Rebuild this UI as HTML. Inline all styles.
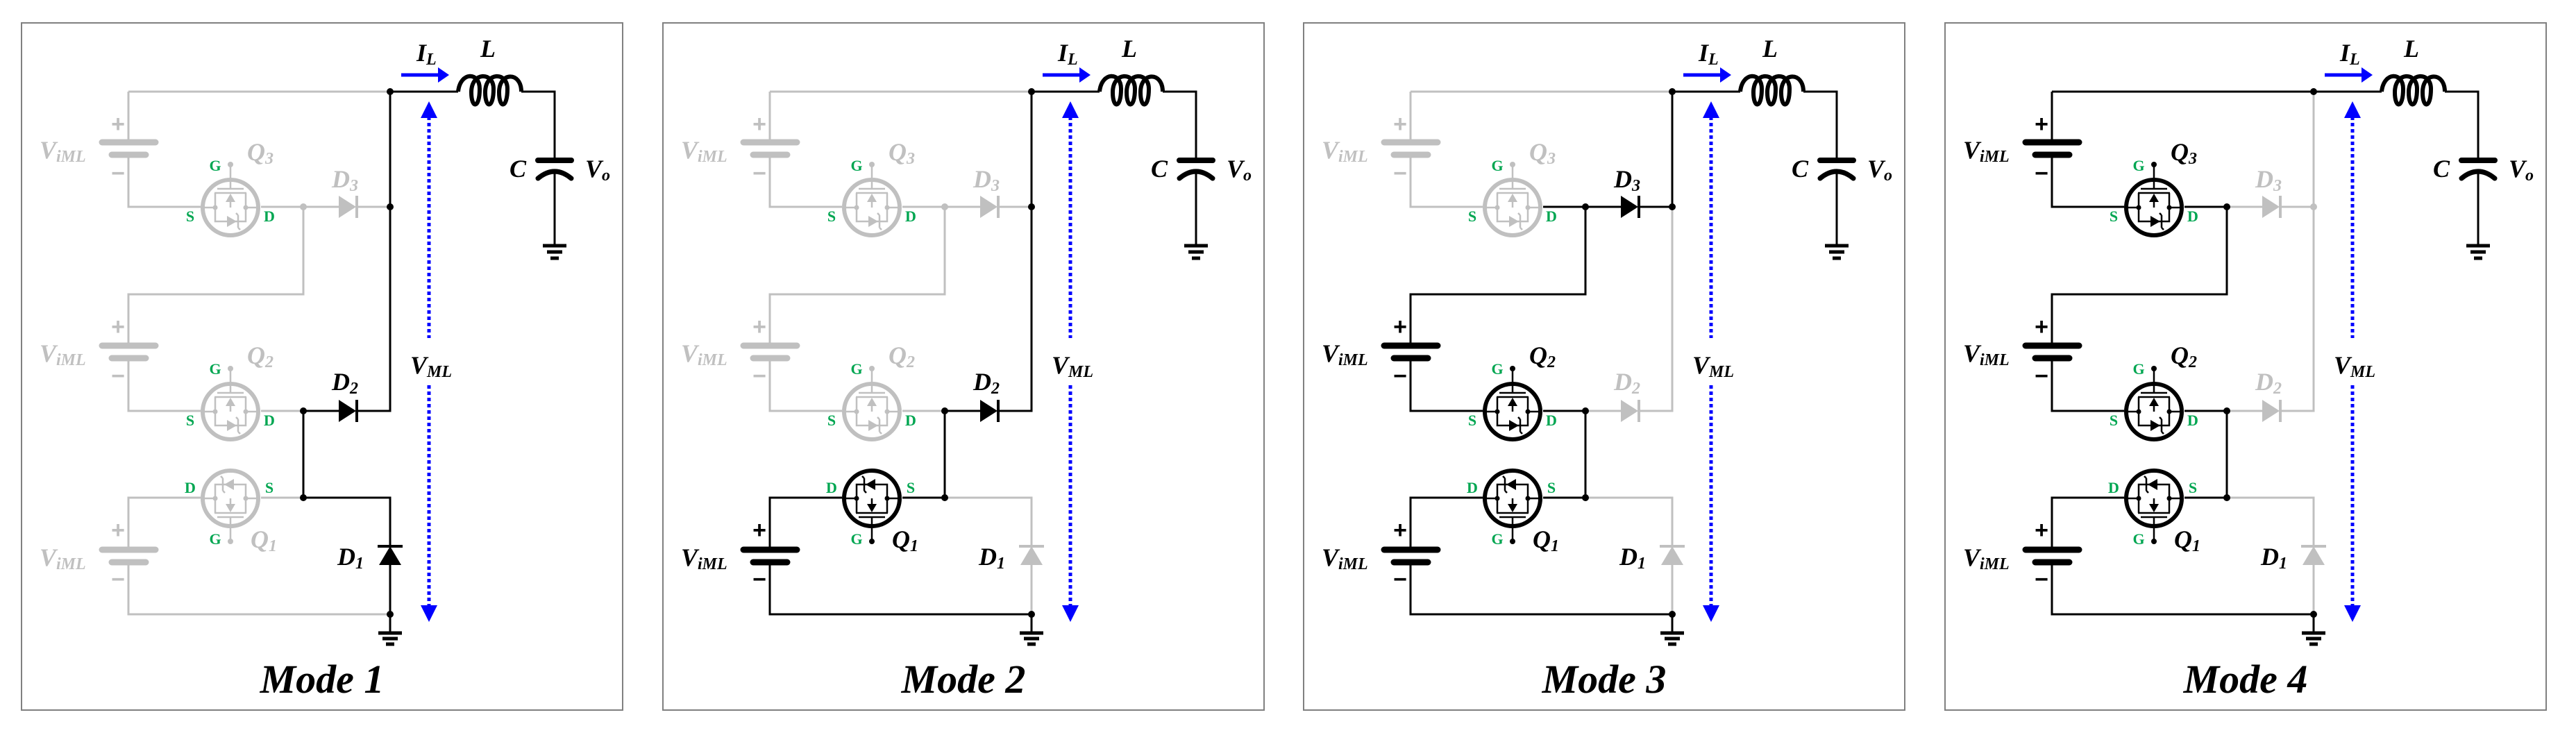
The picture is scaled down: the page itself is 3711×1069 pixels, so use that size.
<!DOCTYPE html>
<html><head><meta charset="utf-8"><style>
html,body{margin:0;padding:0;background:#fff}
svg{display:block}
.A,.B,.C,.E,.F,.G,.H{color:#c0c0c0}
.m4 .A,.m3 .B,.m4 .B,.m3 .C,.m1 .E,.m2 .E,.m3 .E,.m1 .F,.m2 .F,.m2 .G,.m3 .G,.m4 .G,.m1 .H{color:#000}
.K{color:#000}
.t{font-family:"Liberation Serif",serif;font-weight:bold;font-style:italic;fill:currentColor;stroke:none}
.gr{font-family:"Liberation Serif",serif;font-weight:bold;fill:#00a651;stroke:none;font-size:22px;text-anchor:middle}
.pm{font-family:"Liberation Sans",sans-serif;font-weight:bold;fill:currentColor;stroke:none;font-size:34px;text-anchor:middle}
.f{fill:currentColor;stroke:none}
</style></head><body>
<svg width="3711" height="1069" viewBox="0 0 3711 1069" xmlns="http://www.w3.org/2000/svg">
<defs></defs>

<!-- PANEL 1 -->
<g class="m1" transform="translate(31,33)" stroke="currentColor" fill="none" stroke-width="3">
<rect x="0" y="0" width="866" height="990" stroke="#808080" stroke-width="2" fill="#fff"/>
<g class="A">
<path d="M154,99 H531 M154,99 V172 M154,190 V265 H258"/>
<path d="M116,172 H193 M130,190 H179" stroke-width="9" stroke-linecap="round"/>
<text class="pm" x="139" y="157">+</text><text class="pm" x="139" y="228">−</text>
<text class="t" x="26" y="195" font-size="36">V<tspan font-size="24" dy="5">iML</tspan></text>
<g transform="translate(301,266)"><circle r="40" stroke-width="6"/><path d="M0,-62 V-27 M-19,-27 H19 M-23,-21 H23 M-22,-21 V20 H22 V-21 M-40,0 H-22 M40,0 H22 M0,-9 V0" stroke-width="2.5"/><circle class="f" cx="-22" r="3.5"/><circle class="f" cx="22" r="3.5"/><circle class="f" cy="-62" r="4"/><path class="f" d="M0,-20 L-7,-8 H7 Z"/><path class="f" d="M-5,12 L9,20 L-5,28 Z"/><path d="M11,11 V29 M11,11 l-3,-3 M11,29 l3,3" stroke-width="2.5"/></g>
<text class="t" x="325" y="198" font-size="36">Q<tspan font-size="24" dy="5">3</tspan></text>
</g>
<text class="gr" x="279" y="213">G</text><text class="gr" x="243" y="286">S</text><text class="gr" x="357" y="286">D</text>
<g class="B">
<path d="M345,265 H406 V391 H154 V465 M154,483 V559 H258 M345,559 H406"/>
<circle class="f" cx="406" cy="265" r="5"/>
<path d="M116,465 H193 M130,483 H179" stroke-width="9" stroke-linecap="round"/>
<text class="pm" x="139" y="449">+</text><text class="pm" x="139" y="520">−</text>
<text class="t" x="26" y="488" font-size="36">V<tspan font-size="24" dy="5">iML</tspan></text>
<g transform="translate(301,560)"><circle r="40" stroke-width="6"/><path d="M0,-62 V-27 M-19,-27 H19 M-23,-21 H23 M-22,-21 V20 H22 V-21 M-40,0 H-22 M40,0 H22 M0,-9 V0" stroke-width="2.5"/><circle class="f" cx="-22" r="3.5"/><circle class="f" cx="22" r="3.5"/><circle class="f" cy="-62" r="4"/><path class="f" d="M0,-20 L-7,-8 H7 Z"/><path class="f" d="M-5,12 L9,20 L-5,28 Z"/><path d="M11,11 V29 M11,11 l-3,-3 M11,29 l3,3" stroke-width="2.5"/></g>
<text class="t" x="325" y="491" font-size="36">Q<tspan font-size="24" dy="5">2</tspan></text>
</g>
<text class="gr" x="279" y="506">G</text><text class="gr" x="243" y="580">S</text><text class="gr" x="357" y="580">D</text>
<g class="C">
<path d="M406,265 H457 M483,265 H531"/>
<path class="f" d="M457,249 L482,265 L457,281 Z"/><path d="M483,249 V281" stroke-width="4"/>
<text class="t" x="447" y="237" font-size="36">D<tspan font-size="24" dy="5">3</tspan></text>
</g>
<g class="E"><path d="M531,99 V265"/><circle class="f" cx="531" cy="265" r="5"/></g>
<g class="F">
<path d="M531,265 V559 H483 M457,559 H406"/>
<path class="f" d="M457,543 L482,559 L457,575 Z"/><path d="M483,543 V575" stroke-width="4"/>
<text class="t" x="447" y="529" font-size="36">D<tspan font-size="24" dy="5">2</tspan></text>
</g>
<g class="G">
<path d="M345,684 H406 M258,684 H154 V759 M154,777 V852 H531"/>
<path d="M116,759 H193 M130,777 H179" stroke-width="9" stroke-linecap="round"/>
<text class="pm" x="139" y="742">+</text><text class="pm" x="139" y="813">−</text>
<text class="t" x="26" y="782" font-size="36">V<tspan font-size="24" dy="5">iML</tspan></text>
<g transform="translate(301,685) rotate(180)"><circle r="40" stroke-width="6"/><path d="M0,-62 V-27 M-19,-27 H19 M-23,-21 H23 M-22,-21 V20 H22 V-21 M-40,0 H-22 M40,0 H22 M0,-9 V0" stroke-width="2.5"/><circle class="f" cx="-22" r="3.5"/><circle class="f" cx="22" r="3.5"/><circle class="f" cy="-62" r="4"/><path class="f" d="M0,-20 L-7,-8 H7 Z"/><path class="f" d="M-5,12 L9,20 L-5,28 Z"/><path d="M11,11 V29 M11,11 l-3,-3 M11,29 l3,3" stroke-width="2.5"/></g>
<text class="t" x="330" y="756" font-size="36">Q<tspan font-size="24" dy="5">1</tspan></text>
</g>
<text class="gr" x="279" y="751">G</text><text class="gr" x="243" y="677">D</text><text class="gr" x="357" y="677">S</text>
<g class="H">
<path d="M406,684 H531 V754 M531,780 V852"/>
<path class="f" d="M531,754 L515,781 H547 Z"/><path d="M513,754 H549" stroke-width="4"/>
</g>
<g class="H"><text class="t" x="455" y="781" font-size="36">D<tspan font-size="24" dy="5">1</tspan></text></g>
<g class="K">
<path d="M406,559 V684 M531,852 V879 M531,99 H629 M720,99 H768 V198 M768,213 V321"/>
<circle class="f" cx="406" cy="559" r="5"/><circle class="f" cx="406" cy="684" r="5"/><circle class="f" cx="531" cy="99" r="5"/><circle class="f" cx="531" cy="852" r="5"/>
<path d="M514,879 H548 M520,887 H542 M525,895 H537" stroke-width="5"/>
<path d="M751,321 H785 M757,330 H779 M762,339 H774" stroke-width="5"/>
<path d="M629,99 C632,70 660,70 660,95 C660,124 648,124 648,100 C648,70 680,70 680,95 C680,124 668,124 668,100 C668,70 700,70 700,95 C700,124 688,124 688,100 C688,70 720,70 720,99" stroke-width="6"/>
<path d="M744,198 H792" stroke-width="8" stroke-linecap="round"/>
<path d="M744,224 Q768,204 792,224" stroke-width="7" stroke-linecap="round"/>
<text class="t" x="569" y="55" font-size="36">I<tspan font-size="24" dy="5">L</tspan></text>
<text class="t" x="661" y="49" font-size="36">L</text>
<text class="t" x="703" y="222" font-size="36">C</text>
<text class="t" x="812" y="222" font-size="36">V<tspan font-size="24" dy="5">o</tspan></text>
<text class="t" x="560" y="505" font-size="36">V<tspan font-size="24" dy="5">ML</tspan></text>
<text class="t" x="433" y="965" font-size="58" text-anchor="middle">Mode 1</text>
</g>
<g stroke="#0000ff" fill="#0000ff">
<path d="M547,75 H602" stroke-width="5" fill="none"/><path d="M600,64 L616,75 L600,86 Z" stroke="none"/>
<path d="M587,135 V454 M587,522 V843" stroke-width="5" stroke-dasharray="5,4" fill="none"/>
<path d="M587,113 L575,137 H599 Z M587,863 L575,839 H599 Z" stroke="none"/>
</g>
</g>

<!-- PANEL 2 -->
<g class="m2" transform="translate(955,33)" stroke="currentColor" fill="none" stroke-width="3">
<rect x="0" y="0" width="866" height="990" stroke="#808080" stroke-width="2" fill="#fff"/>
<g class="A">
<path d="M154,99 H531 M154,99 V172 M154,190 V265 H258"/>
<path d="M116,172 H193 M130,190 H179" stroke-width="9" stroke-linecap="round"/>
<text class="pm" x="139" y="157">+</text><text class="pm" x="139" y="228">−</text>
<text class="t" x="26" y="195" font-size="36">V<tspan font-size="24" dy="5">iML</tspan></text>
<g transform="translate(301,266)"><circle r="40" stroke-width="6"/><path d="M0,-62 V-27 M-19,-27 H19 M-23,-21 H23 M-22,-21 V20 H22 V-21 M-40,0 H-22 M40,0 H22 M0,-9 V0" stroke-width="2.5"/><circle class="f" cx="-22" r="3.5"/><circle class="f" cx="22" r="3.5"/><circle class="f" cy="-62" r="4"/><path class="f" d="M0,-20 L-7,-8 H7 Z"/><path class="f" d="M-5,12 L9,20 L-5,28 Z"/><path d="M11,11 V29 M11,11 l-3,-3 M11,29 l3,3" stroke-width="2.5"/></g>
<text class="t" x="325" y="198" font-size="36">Q<tspan font-size="24" dy="5">3</tspan></text>
</g>
<text class="gr" x="279" y="213">G</text><text class="gr" x="243" y="286">S</text><text class="gr" x="357" y="286">D</text>
<g class="B">
<path d="M345,265 H406 V391 H154 V465 M154,483 V559 H258 M345,559 H406"/>
<circle class="f" cx="406" cy="265" r="5"/>
<path d="M116,465 H193 M130,483 H179" stroke-width="9" stroke-linecap="round"/>
<text class="pm" x="139" y="449">+</text><text class="pm" x="139" y="520">−</text>
<text class="t" x="26" y="488" font-size="36">V<tspan font-size="24" dy="5">iML</tspan></text>
<g transform="translate(301,560)"><circle r="40" stroke-width="6"/><path d="M0,-62 V-27 M-19,-27 H19 M-23,-21 H23 M-22,-21 V20 H22 V-21 M-40,0 H-22 M40,0 H22 M0,-9 V0" stroke-width="2.5"/><circle class="f" cx="-22" r="3.5"/><circle class="f" cx="22" r="3.5"/><circle class="f" cy="-62" r="4"/><path class="f" d="M0,-20 L-7,-8 H7 Z"/><path class="f" d="M-5,12 L9,20 L-5,28 Z"/><path d="M11,11 V29 M11,11 l-3,-3 M11,29 l3,3" stroke-width="2.5"/></g>
<text class="t" x="325" y="491" font-size="36">Q<tspan font-size="24" dy="5">2</tspan></text>
</g>
<text class="gr" x="279" y="506">G</text><text class="gr" x="243" y="580">S</text><text class="gr" x="357" y="580">D</text>
<g class="C">
<path d="M406,265 H457 M483,265 H531"/>
<path class="f" d="M457,249 L482,265 L457,281 Z"/><path d="M483,249 V281" stroke-width="4"/>
<text class="t" x="447" y="237" font-size="36">D<tspan font-size="24" dy="5">3</tspan></text>
</g>
<g class="E"><path d="M531,99 V265"/><circle class="f" cx="531" cy="265" r="5"/></g>
<g class="F">
<path d="M531,265 V559 H483 M457,559 H406"/>
<path class="f" d="M457,543 L482,559 L457,575 Z"/><path d="M483,543 V575" stroke-width="4"/>
<text class="t" x="447" y="529" font-size="36">D<tspan font-size="24" dy="5">2</tspan></text>
</g>
<g class="G">
<path d="M345,684 H406 M258,684 H154 V759 M154,777 V852 H531"/>
<path d="M116,759 H193 M130,777 H179" stroke-width="9" stroke-linecap="round"/>
<text class="pm" x="139" y="742">+</text><text class="pm" x="139" y="813">−</text>
<text class="t" x="26" y="782" font-size="36">V<tspan font-size="24" dy="5">iML</tspan></text>
<g transform="translate(301,685) rotate(180)"><circle r="40" stroke-width="6"/><path d="M0,-62 V-27 M-19,-27 H19 M-23,-21 H23 M-22,-21 V20 H22 V-21 M-40,0 H-22 M40,0 H22 M0,-9 V0" stroke-width="2.5"/><circle class="f" cx="-22" r="3.5"/><circle class="f" cx="22" r="3.5"/><circle class="f" cy="-62" r="4"/><path class="f" d="M0,-20 L-7,-8 H7 Z"/><path class="f" d="M-5,12 L9,20 L-5,28 Z"/><path d="M11,11 V29 M11,11 l-3,-3 M11,29 l3,3" stroke-width="2.5"/></g>
<text class="t" x="330" y="756" font-size="36">Q<tspan font-size="24" dy="5">1</tspan></text>
</g>
<text class="gr" x="279" y="751">G</text><text class="gr" x="243" y="677">D</text><text class="gr" x="357" y="677">S</text>
<g class="H">
<path d="M406,684 H531 V754 M531,780 V852"/>
<path class="f" d="M531,754 L515,781 H547 Z"/><path d="M513,754 H549" stroke-width="4"/>
</g>
<g class="K"><text class="t" x="455" y="781" font-size="36">D<tspan font-size="24" dy="5">1</tspan></text></g>
<g class="K">
<path d="M406,559 V684 M531,852 V879 M531,99 H629 M720,99 H768 V198 M768,213 V321"/>
<circle class="f" cx="406" cy="559" r="5"/><circle class="f" cx="406" cy="684" r="5"/><circle class="f" cx="531" cy="99" r="5"/><circle class="f" cx="531" cy="852" r="5"/>
<path d="M514,879 H548 M520,887 H542 M525,895 H537" stroke-width="5"/>
<path d="M751,321 H785 M757,330 H779 M762,339 H774" stroke-width="5"/>
<path d="M629,99 C632,70 660,70 660,95 C660,124 648,124 648,100 C648,70 680,70 680,95 C680,124 668,124 668,100 C668,70 700,70 700,95 C700,124 688,124 688,100 C688,70 720,70 720,99" stroke-width="6"/>
<path d="M744,198 H792" stroke-width="8" stroke-linecap="round"/>
<path d="M744,224 Q768,204 792,224" stroke-width="7" stroke-linecap="round"/>
<text class="t" x="569" y="55" font-size="36">I<tspan font-size="24" dy="5">L</tspan></text>
<text class="t" x="661" y="49" font-size="36">L</text>
<text class="t" x="703" y="222" font-size="36">C</text>
<text class="t" x="812" y="222" font-size="36">V<tspan font-size="24" dy="5">o</tspan></text>
<text class="t" x="560" y="505" font-size="36">V<tspan font-size="24" dy="5">ML</tspan></text>
<text class="t" x="433" y="965" font-size="58" text-anchor="middle">Mode 2</text>
</g>
<g stroke="#0000ff" fill="#0000ff">
<path d="M547,75 H602" stroke-width="5" fill="none"/><path d="M600,64 L616,75 L600,86 Z" stroke="none"/>
<path d="M587,135 V454 M587,522 V843" stroke-width="5" stroke-dasharray="5,4" fill="none"/>
<path d="M587,113 L575,137 H599 Z M587,863 L575,839 H599 Z" stroke="none"/>
</g>
</g>

<!-- PANEL 3 -->
<g class="m3" transform="translate(1878,33)" stroke="currentColor" fill="none" stroke-width="3">
<rect x="0" y="0" width="866" height="990" stroke="#808080" stroke-width="2" fill="#fff"/>
<g class="A">
<path d="M154,99 H531 M154,99 V172 M154,190 V265 H258"/>
<path d="M116,172 H193 M130,190 H179" stroke-width="9" stroke-linecap="round"/>
<text class="pm" x="139" y="157">+</text><text class="pm" x="139" y="228">−</text>
<text class="t" x="26" y="195" font-size="36">V<tspan font-size="24" dy="5">iML</tspan></text>
<g transform="translate(301,266)"><circle r="40" stroke-width="6"/><path d="M0,-62 V-27 M-19,-27 H19 M-23,-21 H23 M-22,-21 V20 H22 V-21 M-40,0 H-22 M40,0 H22 M0,-9 V0" stroke-width="2.5"/><circle class="f" cx="-22" r="3.5"/><circle class="f" cx="22" r="3.5"/><circle class="f" cy="-62" r="4"/><path class="f" d="M0,-20 L-7,-8 H7 Z"/><path class="f" d="M-5,12 L9,20 L-5,28 Z"/><path d="M11,11 V29 M11,11 l-3,-3 M11,29 l3,3" stroke-width="2.5"/></g>
<text class="t" x="325" y="198" font-size="36">Q<tspan font-size="24" dy="5">3</tspan></text>
</g>
<text class="gr" x="279" y="213">G</text><text class="gr" x="243" y="286">S</text><text class="gr" x="357" y="286">D</text>
<g class="B">
<path d="M345,265 H406 V391 H154 V465 M154,483 V559 H258 M345,559 H406"/>
<circle class="f" cx="406" cy="265" r="5"/>
<path d="M116,465 H193 M130,483 H179" stroke-width="9" stroke-linecap="round"/>
<text class="pm" x="139" y="449">+</text><text class="pm" x="139" y="520">−</text>
<text class="t" x="26" y="488" font-size="36">V<tspan font-size="24" dy="5">iML</tspan></text>
<g transform="translate(301,560)"><circle r="40" stroke-width="6"/><path d="M0,-62 V-27 M-19,-27 H19 M-23,-21 H23 M-22,-21 V20 H22 V-21 M-40,0 H-22 M40,0 H22 M0,-9 V0" stroke-width="2.5"/><circle class="f" cx="-22" r="3.5"/><circle class="f" cx="22" r="3.5"/><circle class="f" cy="-62" r="4"/><path class="f" d="M0,-20 L-7,-8 H7 Z"/><path class="f" d="M-5,12 L9,20 L-5,28 Z"/><path d="M11,11 V29 M11,11 l-3,-3 M11,29 l3,3" stroke-width="2.5"/></g>
<text class="t" x="325" y="491" font-size="36">Q<tspan font-size="24" dy="5">2</tspan></text>
</g>
<text class="gr" x="279" y="506">G</text><text class="gr" x="243" y="580">S</text><text class="gr" x="357" y="580">D</text>
<g class="C">
<path d="M406,265 H457 M483,265 H531"/>
<path class="f" d="M457,249 L482,265 L457,281 Z"/><path d="M483,249 V281" stroke-width="4"/>
<text class="t" x="447" y="237" font-size="36">D<tspan font-size="24" dy="5">3</tspan></text>
</g>
<g class="F">
<path d="M531,265 V559 H483 M457,559 H406"/>
<path class="f" d="M457,543 L482,559 L457,575 Z"/><path d="M483,543 V575" stroke-width="4"/>
<text class="t" x="447" y="529" font-size="36">D<tspan font-size="24" dy="5">2</tspan></text>
</g>
<g class="E"><path d="M531,99 V265"/><circle class="f" cx="531" cy="265" r="5"/></g>
<g class="G">
<path d="M345,684 H406 M258,684 H154 V759 M154,777 V852 H531"/>
<path d="M116,759 H193 M130,777 H179" stroke-width="9" stroke-linecap="round"/>
<text class="pm" x="139" y="742">+</text><text class="pm" x="139" y="813">−</text>
<text class="t" x="26" y="782" font-size="36">V<tspan font-size="24" dy="5">iML</tspan></text>
<g transform="translate(301,685) rotate(180)"><circle r="40" stroke-width="6"/><path d="M0,-62 V-27 M-19,-27 H19 M-23,-21 H23 M-22,-21 V20 H22 V-21 M-40,0 H-22 M40,0 H22 M0,-9 V0" stroke-width="2.5"/><circle class="f" cx="-22" r="3.5"/><circle class="f" cx="22" r="3.5"/><circle class="f" cy="-62" r="4"/><path class="f" d="M0,-20 L-7,-8 H7 Z"/><path class="f" d="M-5,12 L9,20 L-5,28 Z"/><path d="M11,11 V29 M11,11 l-3,-3 M11,29 l3,3" stroke-width="2.5"/></g>
<text class="t" x="330" y="756" font-size="36">Q<tspan font-size="24" dy="5">1</tspan></text>
</g>
<text class="gr" x="279" y="751">G</text><text class="gr" x="243" y="677">D</text><text class="gr" x="357" y="677">S</text>
<g class="H">
<path d="M406,684 H531 V754 M531,780 V852"/>
<path class="f" d="M531,754 L515,781 H547 Z"/><path d="M513,754 H549" stroke-width="4"/>
</g>
<g class="K"><text class="t" x="455" y="781" font-size="36">D<tspan font-size="24" dy="5">1</tspan></text></g>
<g class="K">
<path d="M406,559 V684 M531,852 V879 M531,99 H629 M720,99 H768 V198 M768,213 V321"/>
<circle class="f" cx="406" cy="559" r="5"/><circle class="f" cx="406" cy="684" r="5"/><circle class="f" cx="531" cy="99" r="5"/><circle class="f" cx="531" cy="852" r="5"/>
<path d="M514,879 H548 M520,887 H542 M525,895 H537" stroke-width="5"/>
<path d="M751,321 H785 M757,330 H779 M762,339 H774" stroke-width="5"/>
<path d="M629,99 C632,70 660,70 660,95 C660,124 648,124 648,100 C648,70 680,70 680,95 C680,124 668,124 668,100 C668,70 700,70 700,95 C700,124 688,124 688,100 C688,70 720,70 720,99" stroke-width="6"/>
<path d="M744,198 H792" stroke-width="8" stroke-linecap="round"/>
<path d="M744,224 Q768,204 792,224" stroke-width="7" stroke-linecap="round"/>
<text class="t" x="569" y="55" font-size="36">I<tspan font-size="24" dy="5">L</tspan></text>
<text class="t" x="661" y="49" font-size="36">L</text>
<text class="t" x="703" y="222" font-size="36">C</text>
<text class="t" x="812" y="222" font-size="36">V<tspan font-size="24" dy="5">o</tspan></text>
<text class="t" x="560" y="505" font-size="36">V<tspan font-size="24" dy="5">ML</tspan></text>
<text class="t" x="433" y="965" font-size="58" text-anchor="middle">Mode 3</text>
</g>
<g stroke="#0000ff" fill="#0000ff">
<path d="M547,75 H602" stroke-width="5" fill="none"/><path d="M600,64 L616,75 L600,86 Z" stroke="none"/>
<path d="M587,135 V454 M587,522 V843" stroke-width="5" stroke-dasharray="5,4" fill="none"/>
<path d="M587,113 L575,137 H599 Z M587,863 L575,839 H599 Z" stroke="none"/>
</g>
</g>

<!-- PANEL 4 -->
<g class="m4" transform="translate(2802,33)" stroke="currentColor" fill="none" stroke-width="3">
<rect x="0" y="0" width="866" height="990" stroke="#808080" stroke-width="2" fill="#fff"/>
<g class="C">
<path d="M406,265 H457 M483,265 H531"/>
<path class="f" d="M457,249 L482,265 L457,281 Z"/><path d="M483,249 V281" stroke-width="4"/>
<text class="t" x="447" y="237" font-size="36">D<tspan font-size="24" dy="5">3</tspan></text>
</g>
<g class="E"><path d="M531,99 V265"/><circle class="f" cx="531" cy="265" r="5"/></g>
<g class="F">
<path d="M531,265 V559 H483 M457,559 H406"/>
<path class="f" d="M457,543 L482,559 L457,575 Z"/><path d="M483,543 V575" stroke-width="4"/>
<text class="t" x="447" y="529" font-size="36">D<tspan font-size="24" dy="5">2</tspan></text>
</g>
<g class="A">
<path d="M154,99 H531 M154,99 V172 M154,190 V265 H258"/>
<path d="M116,172 H193 M130,190 H179" stroke-width="9" stroke-linecap="round"/>
<text class="pm" x="139" y="157">+</text><text class="pm" x="139" y="228">−</text>
<text class="t" x="26" y="195" font-size="36">V<tspan font-size="24" dy="5">iML</tspan></text>
<g transform="translate(301,266)"><circle r="40" stroke-width="6"/><path d="M0,-62 V-27 M-19,-27 H19 M-23,-21 H23 M-22,-21 V20 H22 V-21 M-40,0 H-22 M40,0 H22 M0,-9 V0" stroke-width="2.5"/><circle class="f" cx="-22" r="3.5"/><circle class="f" cx="22" r="3.5"/><circle class="f" cy="-62" r="4"/><path class="f" d="M0,-20 L-7,-8 H7 Z"/><path class="f" d="M-5,12 L9,20 L-5,28 Z"/><path d="M11,11 V29 M11,11 l-3,-3 M11,29 l3,3" stroke-width="2.5"/></g>
<text class="t" x="325" y="198" font-size="36">Q<tspan font-size="24" dy="5">3</tspan></text>
</g>
<text class="gr" x="279" y="213">G</text><text class="gr" x="243" y="286">S</text><text class="gr" x="357" y="286">D</text>
<g class="B">
<path d="M345,265 H406 V391 H154 V465 M154,483 V559 H258 M345,559 H406"/>
<circle class="f" cx="406" cy="265" r="5"/>
<path d="M116,465 H193 M130,483 H179" stroke-width="9" stroke-linecap="round"/>
<text class="pm" x="139" y="449">+</text><text class="pm" x="139" y="520">−</text>
<text class="t" x="26" y="488" font-size="36">V<tspan font-size="24" dy="5">iML</tspan></text>
<g transform="translate(301,560)"><circle r="40" stroke-width="6"/><path d="M0,-62 V-27 M-19,-27 H19 M-23,-21 H23 M-22,-21 V20 H22 V-21 M-40,0 H-22 M40,0 H22 M0,-9 V0" stroke-width="2.5"/><circle class="f" cx="-22" r="3.5"/><circle class="f" cx="22" r="3.5"/><circle class="f" cy="-62" r="4"/><path class="f" d="M0,-20 L-7,-8 H7 Z"/><path class="f" d="M-5,12 L9,20 L-5,28 Z"/><path d="M11,11 V29 M11,11 l-3,-3 M11,29 l3,3" stroke-width="2.5"/></g>
<text class="t" x="325" y="491" font-size="36">Q<tspan font-size="24" dy="5">2</tspan></text>
</g>
<text class="gr" x="279" y="506">G</text><text class="gr" x="243" y="580">S</text><text class="gr" x="357" y="580">D</text>
<g class="G">
<path d="M345,684 H406 M258,684 H154 V759 M154,777 V852 H531"/>
<path d="M116,759 H193 M130,777 H179" stroke-width="9" stroke-linecap="round"/>
<text class="pm" x="139" y="742">+</text><text class="pm" x="139" y="813">−</text>
<text class="t" x="26" y="782" font-size="36">V<tspan font-size="24" dy="5">iML</tspan></text>
<g transform="translate(301,685) rotate(180)"><circle r="40" stroke-width="6"/><path d="M0,-62 V-27 M-19,-27 H19 M-23,-21 H23 M-22,-21 V20 H22 V-21 M-40,0 H-22 M40,0 H22 M0,-9 V0" stroke-width="2.5"/><circle class="f" cx="-22" r="3.5"/><circle class="f" cx="22" r="3.5"/><circle class="f" cy="-62" r="4"/><path class="f" d="M0,-20 L-7,-8 H7 Z"/><path class="f" d="M-5,12 L9,20 L-5,28 Z"/><path d="M11,11 V29 M11,11 l-3,-3 M11,29 l3,3" stroke-width="2.5"/></g>
<text class="t" x="330" y="756" font-size="36">Q<tspan font-size="24" dy="5">1</tspan></text>
</g>
<text class="gr" x="279" y="751">G</text><text class="gr" x="243" y="677">D</text><text class="gr" x="357" y="677">S</text>
<g class="H">
<path d="M406,684 H531 V754 M531,780 V852"/>
<path class="f" d="M531,754 L515,781 H547 Z"/><path d="M513,754 H549" stroke-width="4"/>
</g>
<g class="K"><text class="t" x="455" y="781" font-size="36">D<tspan font-size="24" dy="5">1</tspan></text></g>
<g class="K">
<path d="M406,559 V684 M531,852 V879 M531,99 H629 M720,99 H768 V198 M768,213 V321"/>
<circle class="f" cx="406" cy="559" r="5"/><circle class="f" cx="406" cy="684" r="5"/><circle class="f" cx="531" cy="99" r="5"/><circle class="f" cx="531" cy="852" r="5"/>
<path d="M514,879 H548 M520,887 H542 M525,895 H537" stroke-width="5"/>
<path d="M751,321 H785 M757,330 H779 M762,339 H774" stroke-width="5"/>
<path d="M629,99 C632,70 660,70 660,95 C660,124 648,124 648,100 C648,70 680,70 680,95 C680,124 668,124 668,100 C668,70 700,70 700,95 C700,124 688,124 688,100 C688,70 720,70 720,99" stroke-width="6"/>
<path d="M744,198 H792" stroke-width="8" stroke-linecap="round"/>
<path d="M744,224 Q768,204 792,224" stroke-width="7" stroke-linecap="round"/>
<text class="t" x="569" y="55" font-size="36">I<tspan font-size="24" dy="5">L</tspan></text>
<text class="t" x="661" y="49" font-size="36">L</text>
<text class="t" x="703" y="222" font-size="36">C</text>
<text class="t" x="812" y="222" font-size="36">V<tspan font-size="24" dy="5">o</tspan></text>
<text class="t" x="560" y="505" font-size="36">V<tspan font-size="24" dy="5">ML</tspan></text>
<text class="t" x="433" y="965" font-size="58" text-anchor="middle">Mode 4</text>
</g>
<g stroke="#0000ff" fill="#0000ff">
<path d="M547,75 H602" stroke-width="5" fill="none"/><path d="M600,64 L616,75 L600,86 Z" stroke="none"/>
<path d="M587,135 V454 M587,522 V843" stroke-width="5" stroke-dasharray="5,4" fill="none"/>
<path d="M587,113 L575,137 H599 Z M587,863 L575,839 H599 Z" stroke="none"/>
</g>
</g>
</svg>
</body></html>
